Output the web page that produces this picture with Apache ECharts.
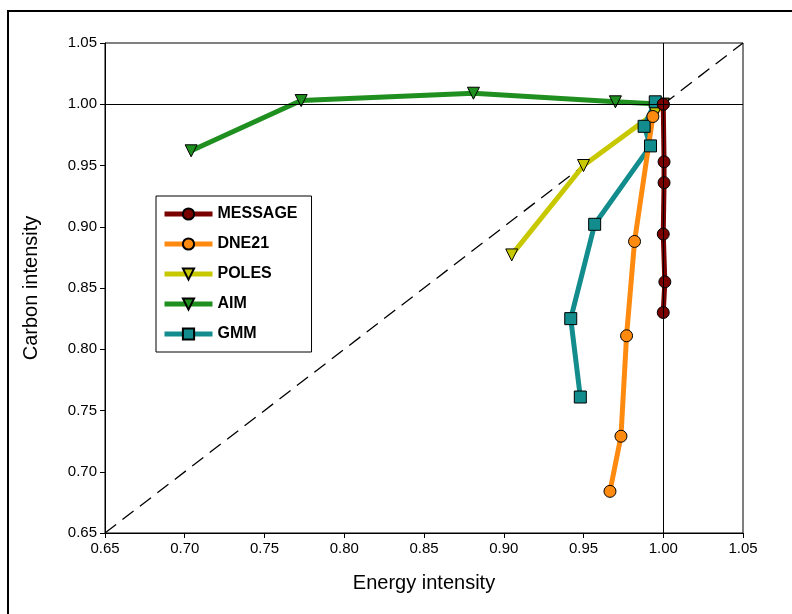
<!DOCTYPE html>
<html><head><meta charset="utf-8">
<script src="https://cdn.jsdelivr.net/npm/echarts@6/dist/echarts.min.js"></script>
<style>html,body{margin:0;background:#fff}#c{width:792px;height:614px}
#frame{position:absolute;left:7px;top:10px;width:800px;height:620px;border:2px solid #000;box-sizing:border-box}</style>
</head><body><div id="frame"></div><div id="c" style="position:absolute;left:0;top:0"></div>
<script>
// [energy intensity, carbon intensity]
const message = [[1.0,1.0],[1.0005,0.953],[1.0005,0.936],[1.0,0.894],[1.001,0.855],[1.0,0.830]];
const dne21 = [[1.0,1.0],[0.9935,0.99],[0.982,0.888],[0.977,0.811],[0.9735,0.729],[0.9666,0.684]];
const poles = [[1.0,1.0],[0.995,0.993],[0.950,0.950],[0.905,0.877]];
const aim = [[1.0,1.0],[0.970,1.002],[0.881,1.009],[0.773,1.003],[0.704,0.962]];
const gmm = [[0.995,1.002],[0.988,0.982],[0.992,0.966],[0.957,0.902],[0.942,0.825],[0.948,0.761]];

function s(name, data, color, symbol, rot) {
  return {name, type:'line', data, symbol, symbolSize:12, symbolRotate:rot||0, z:3,
    lineStyle:{color, width:5}, itemStyle:{color, borderColor:'#000', borderWidth:1}};
}
const chart = echarts.init(document.getElementById('c'));
const ax = {min:0.65, max:1.05, interval:0.05, splitLine:{show:false},
  axisLine:{lineStyle:{color:'#000'}}, axisTick:{inside:false, length:5, lineStyle:{color:'#000'}},
  axisLabel:{color:'#000', fontSize:15, fontFamily:'Liberation Sans', formatter:v=>v.toFixed(2)},
  nameLocation:'middle', nameTextStyle:{color:'#000', fontSize:20, fontFamily:'Liberation Sans'}};
chart.setOption({
  animation:false,
  grid:{left:105, right:49, top:43, bottom:81, show:true, borderColor:'#000', borderWidth:1},
  legend:{orient:'vertical', left:156, top:196, itemGap:14, itemWidth:48, itemHeight:14,
    backgroundColor:'#fff', borderColor:'#000', borderWidth:1, padding:[10,14,10,6],
    lineStyle:{width:5},
    textStyle:{color:'#000', fontSize:16, fontWeight:'bold', fontFamily:'Liberation Sans'},
    data:['MESSAGE','DNE21','POLES','AIM','GMM']},
  xAxis:Object.assign({}, ax, {name:'Energy intensity', nameGap:40}),
  yAxis:Object.assign({}, ax, {name:'Carbon intensity', nameGap:64}),
  series:[
    {type:'line', data:[[0.65,0.65],[1.05,1.05]], symbol:'none', silent:true, z:1,
     lineStyle:{color:'#000', width:1.3, type:[14,8]},
     markLine:{silent:true, symbol:'none', label:{show:false}, lineStyle:{color:'#000', width:1, type:'solid'},
       data:[{xAxis:1.0},{yAxis:1.0}]}},
    s('AIM', aim, '#1f8f1f', 'triangle', 180),
    s('POLES', poles, '#c8c800', 'triangle', 180),
    s('GMM', gmm, '#128c8c', 'rect'),
    s('DNE21', dne21, '#ff8a10', 'circle'),
    s('MESSAGE', message, '#7a0000', 'circle')
  ]
});
</script></body></html>
